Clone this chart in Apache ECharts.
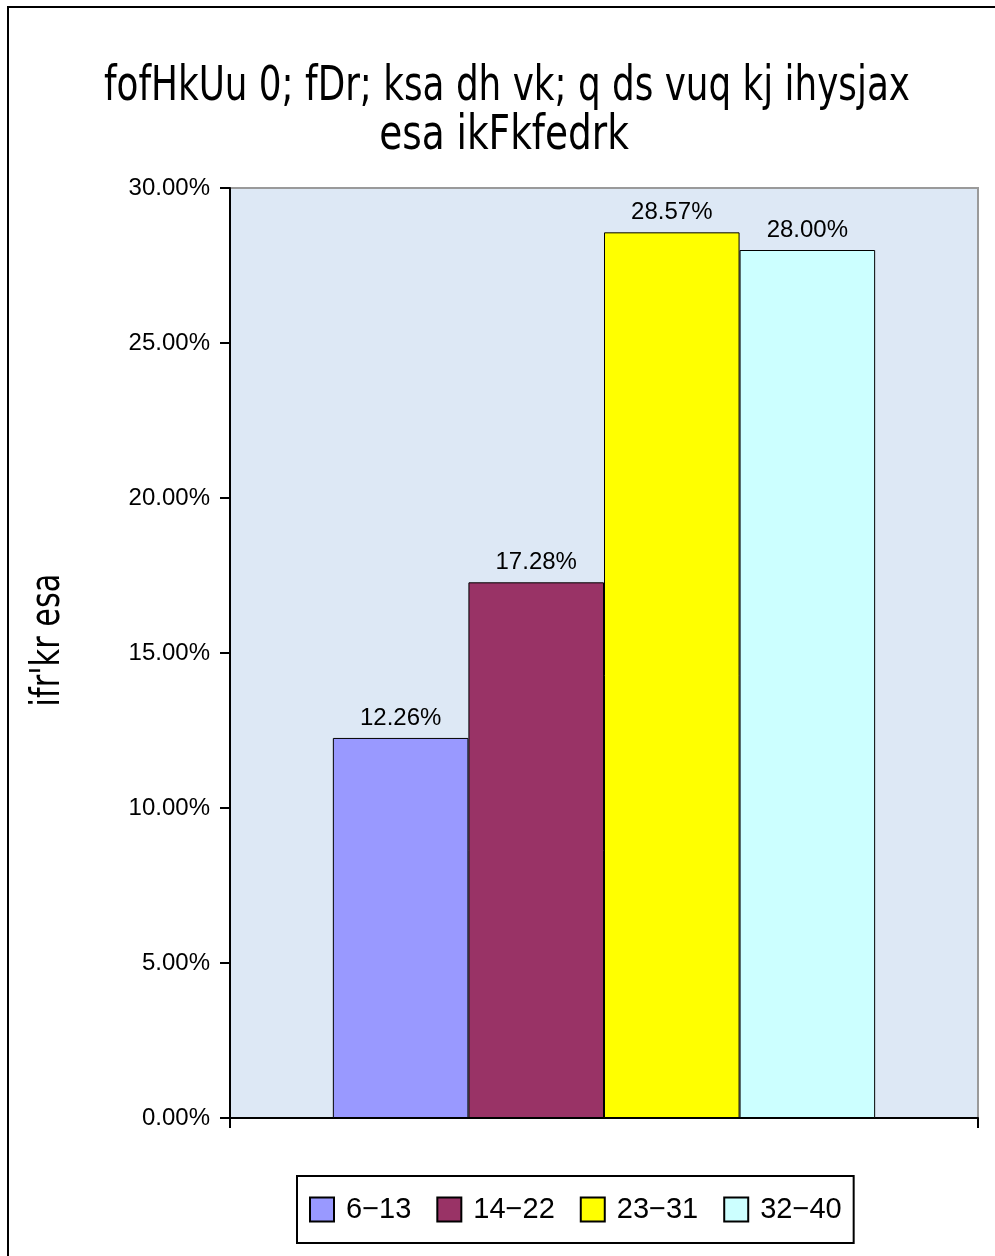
<!DOCTYPE html>
<html>
<head>
<meta charset="utf-8">
<script src="https://cdn.jsdelivr.net/npm/echarts@6/dist/echarts.min.js"></script>
<style>
  html, body { margin: 0; padding: 0; background: #fff; }
  #chart { width: 995px; height: 1256px; }
</style>
</head>
<body>
<div id="chart"></div>
<script>
// data
const ageGroups = ['6−13', '14−22', '23−31', '32−40']
const shares = [0.1226, 0.1728, 0.2857, 0.2800]
const barColors = ['#9999ff', '#993366', '#ffff00', '#ccffff']
const yTicks = { min: 0, max: 0.30, step: 0.05 }

const titleLines = ['fofHkUu 0; fDr; ksa dh vk; q ds vuq kj ihysjax', 'esa ikFkfedrk']
const yName = "ifr'kr esa"

const chart = echarts.init(document.getElementById('chart'))

const pct = v => (v * 100).toFixed(2) + '%'
const narrowFont = "'DejaVu Sans', sans-serif"
const plainFont = "'Liberation Sans', Arial, sans-serif"

chart.setOption({
  backgroundColor: '#fff',
  animation: false,
  // outer frame, title lines and y axis name (squeezed text like the original)
  graphic: [
    {
      type: 'rect',
      shape: { x: 8, y: 7, width: 1000, height: 1300 },
      style: { fill: 'none', stroke: '#000', lineWidth: 2 },
      silent: true
    },
    {
      type: 'text',
      x: 507, y: 88, scaleX: 0.745,
      style: {
        text: titleLines[0], fill: '#000',
        font: '48px ' + narrowFont,
        textAlign: 'center', textVerticalAlign: 'middle'
      }
    },
    {
      type: 'text',
      x: 504, y: 137, scaleX: 0.78,
      style: {
        text: titleLines[1], fill: '#000',
        font: '48px ' + narrowFont,
        textAlign: 'center', textVerticalAlign: 'middle'
      }
    },
    {
      type: 'text',
      x: 49, y: 640, rotation: Math.PI / 2, scaleX: 0.76,
      style: {
        text: yName, fill: '#000',
        font: '40px ' + narrowFont,
        textAlign: 'center', textVerticalAlign: 'middle'
      }
    }
  ],
  legend: {
    bottom: 13,
    left: 297,
    orient: 'horizontal',
    backgroundColor: '#fff',
    borderColor: '#000',
    borderWidth: 2,
    padding: [19, 12, 19, 12],
    itemWidth: 24,
    itemHeight: 24,
    itemGap: 25,
    icon: 'rect',
    textStyle: {
      fontFamily: plainFont,
      fontSize: 29,
      color: '#000',
      padding: [0, 0, 0, 7]
    },
    data: ageGroups
  },
  grid: {
    left: 230,
    top: 188,
    right: 17,
    bottom: 138,
    show: true,
    backgroundColor: '#dde8f5',
    borderColor: '#9a9a9a',
    borderWidth: 2
  },
  xAxis: {
    type: 'category',
    data: [''],
    axisLine: { lineStyle: { color: '#000', width: 2 } },
    axisTick: { show: true, length: 10, lineStyle: { color: '#000', width: 2 } },
    axisLabel: { show: false },
    splitLine: { show: false }
  },
  yAxis: {
    type: 'value',
    min: yTicks.min,
    max: yTicks.max,
    interval: yTicks.step,
    axisLine: { show: true, lineStyle: { color: '#000', width: 2 } },
    axisTick: { show: true, length: 10, lineStyle: { color: '#000', width: 2 } },
    axisLabel: {
      formatter: pct,
      margin: 20,
      fontFamily: plainFont,
      fontSize: 24,
      color: '#000'
    },
    splitLine: { show: false }
  },
  series: ageGroups.map((name, i) => ({
    name: name,
    type: 'bar',
    barGap: '0%',
    barCategoryGap: '27.5%',
    data: [shares[i]],
    itemStyle: { color: barColors[i], borderColor: '#000', borderWidth: 1 },
    label: {
      show: true,
      position: 'top',
      distance: 8,
      formatter: p => pct(p.value),
      fontFamily: plainFont,
      fontSize: 24,
      color: '#000'
    }
  }))
})
</script>
</body>
</html>
